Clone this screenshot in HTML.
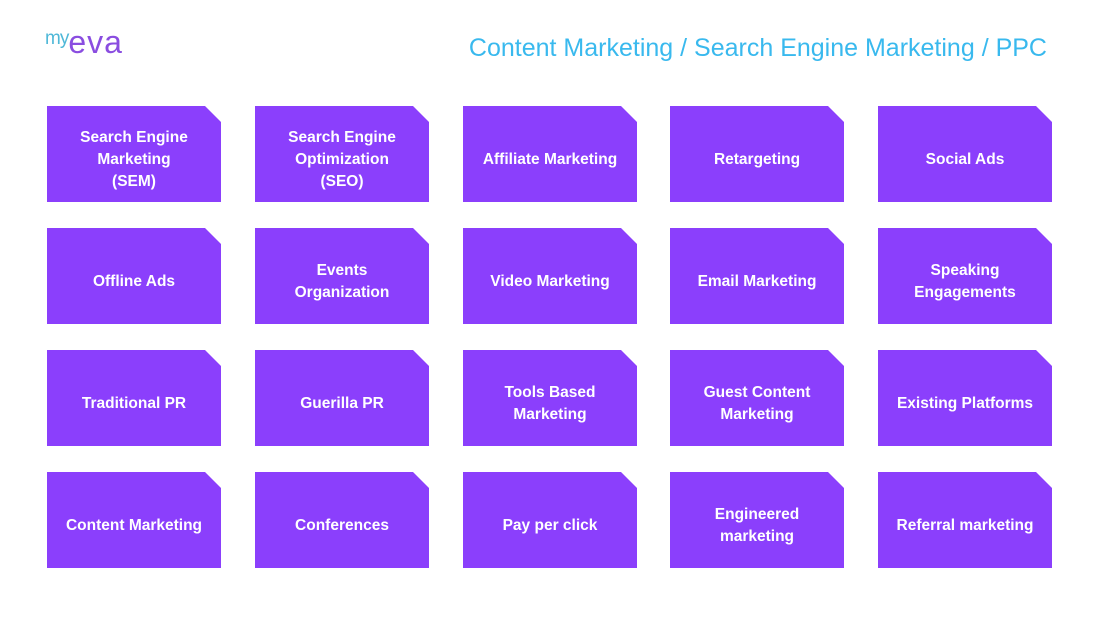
<!DOCTYPE html>
<html><head><meta charset="utf-8"><style>
body{margin:0;width:1100px;height:618px;background:#fff;position:relative;overflow:hidden;font-family:"Liberation Sans",Calibri,sans-serif}
.logo{position:absolute;left:45px;top:24px;font-size:32px;font-weight:300}
.logo .my{color:#4fb8d8;font-size:19px;vertical-align:9px;letter-spacing:-1px}
.logo .eva{color:#8a4de0;letter-spacing:1px}
.title{position:absolute;right:53px;top:34px;font-size:25px;color:#39b9ee}
.b{position:absolute;width:174px;height:96px;box-sizing:border-box;padding-top:12px;background:#8b3ffc;clip-path:polygon(0 0,158px 0,174px 16px,174px 96px,0 96px);color:#fff;font-weight:bold;font-size:15.5px;line-height:22px;display:flex;align-items:center;justify-content:center;text-align:center}
</style></head><body>
<div class="logo"><span class="my">my</span><span class="eva">eva</span></div>
<div class="title">Content Marketing / Search Engine Marketing / PPC</div>
<div class="b" style="left:47px;top:106px">Search Engine<br>Marketing<br>(SEM)</div>
<div class="b" style="left:255px;top:106px">Search Engine<br>Optimization<br>(SEO)</div>
<div class="b" style="left:463px;top:106px">Affiliate Marketing</div>
<div class="b" style="left:670px;top:106px">Retargeting</div>
<div class="b" style="left:878px;top:106px">Social Ads</div>
<div class="b" style="left:47px;top:228px">Offline Ads</div>
<div class="b" style="left:255px;top:228px">Events<br>Organization</div>
<div class="b" style="left:463px;top:228px">Video Marketing</div>
<div class="b" style="left:670px;top:228px">Email Marketing</div>
<div class="b" style="left:878px;top:228px">Speaking<br>Engagements</div>
<div class="b" style="left:47px;top:350px">Traditional PR</div>
<div class="b" style="left:255px;top:350px">Guerilla PR</div>
<div class="b" style="left:463px;top:350px">Tools Based<br>Marketing</div>
<div class="b" style="left:670px;top:350px">Guest Content<br>Marketing</div>
<div class="b" style="left:878px;top:350px">Existing Platforms</div>
<div class="b" style="left:47px;top:472px">Content Marketing</div>
<div class="b" style="left:255px;top:472px">Conferences</div>
<div class="b" style="left:463px;top:472px">Pay per click</div>
<div class="b" style="left:670px;top:472px">Engineered<br>marketing</div>
<div class="b" style="left:878px;top:472px">Referral marketing</div>
</body></html>
